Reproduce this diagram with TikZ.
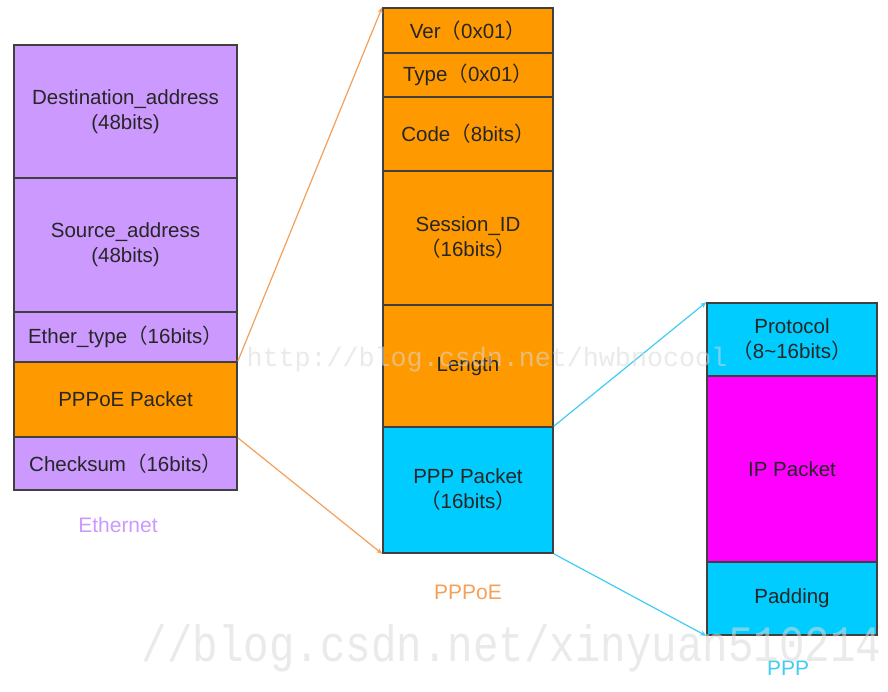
\documentclass[tikz,border=0pt]{standalone}
\usepackage{fontspec}
\setmainfont{Liberation Sans}
\newfontfamily\cjk{Noto Sans CJK SC}
\newfontfamily\wmfont{Liberation Mono}
\usetikzlibrary{arrows.meta}
\definecolor{lav}{HTML}{CC99FF}
\definecolor{org}{HTML}{FF9900}
\definecolor{cyn}{HTML}{00CCFF}
\definecolor{mag}{HTML}{FF00FF}
\definecolor{orgline}{HTML}{F5A05A}
\definecolor{cynline}{HTML}{40CCF5}
\newcommand{\lpar}{{\cjk （}}
\newcommand{\rpar}{{\cjk ）}}
\tikzset{
  field/.style={draw=black!75, line width=1.6pt, align=center, inner sep=0pt,
    text=black!85, font=\fontsize{20.5}{25}\selectfont},
  ethf/.style={field, fill=lav, minimum width=223pt},
  ppoef/.style={field, fill=org, minimum width=170pt},
  pppf/.style={field, minimum width=170pt},
  caption/.style={font=\fontsize{21}{25}\selectfont},
  conn/.style={line width=1.2pt, -{Stealth[length=6pt,width=5pt]}},
  wm/.style={text=black!15, opacity=0.55}
}
\begin{document}
\begin{tikzpicture}[x=1pt,y=-1pt]
\useasboundingbox[fill=white] (0,0) rectangle (888,692);
% Ethernet
\node[ethf, minimum height=133pt] (dst) at (125.5,111.5) {Destination\_address\\(48bits)};
\node[ethf, minimum height=134pt] (src) at (125.5,245) {Source\_address\\(48bits)};
\node[ethf, minimum height=50pt] (etype) at (125.5,337) {Ether\_type\lpar 16bits\rpar};
\node[ethf, fill=org, minimum height=75pt] (epkt) at (125.5,399.5) {PPPoE Packet};
\node[ethf, minimum height=53pt] (cks) at (125.5,463.5) {Checksum\lpar 16bits\rpar};
\node[caption, text=lav] (ethlbl) at (118,525) {Ethernet};
% PPPoE
\node[ppoef, minimum height=45pt] (ver) at (468,30.5) {Ver\lpar 0x01\rpar};
\node[ppoef, minimum height=44pt] (typ) at (468,75) {Type\lpar 0x01\rpar};
\node[ppoef, minimum height=74pt] (code) at (468,134) {Code\lpar 8bits\rpar};
\node[ppoef, minimum height=134pt] (sess) at (468,238) {Session\_ID\\\lpar 16bits\rpar};
\node[ppoef, minimum height=122pt] (len) at (468,366) {Length};
\node[ppoef, fill=cyn, minimum height=126pt] (ppkt) at (468,490) {PPP Packet\\\lpar 16bits\rpar};
\node[caption, text=orgline] (ppoelbl) at (468,592) {PPPoE};
% PPP
\node[pppf, fill=cyn, minimum height=73pt] (proto) at (792,339.5) {Protocol\\\lpar 8\textasciitilde16bits\rpar};
\node[pppf, fill=mag, minimum height=186pt] (ip) at (792,469) {IP Packet};
\node[pppf, fill=cyn, minimum height=73pt] (pad) at (792,598.5) {Padding};
\node[caption, text=cynline] (ppplbl) at (788,668) {PPP};
% connectors
\draw[conn, orgline] (epkt.north east) -- (ver.north west);
\draw[conn, orgline] (epkt.south east) -- (ppkt.south west);
\draw[conn, cynline] (ppkt.north east) -- (proto.north west);
\draw[conn, cynline] (ppkt.south east) -- (pad.south west);
% watermarks
\node[wm, font=\wmfont\fontsize{26.7}{30}\selectfont, anchor=west] (wm1) at (243,360) {http://blog.csdn.net/hwbnocool};
\node[wm, font=\wmfont\fontsize{42.5}{46}\selectfont, anchor=west, yscale=1.2] (wm2) at (138,648) {//blog.csdn.net/xinyuan510214};
\end{tikzpicture}
\end{document}
